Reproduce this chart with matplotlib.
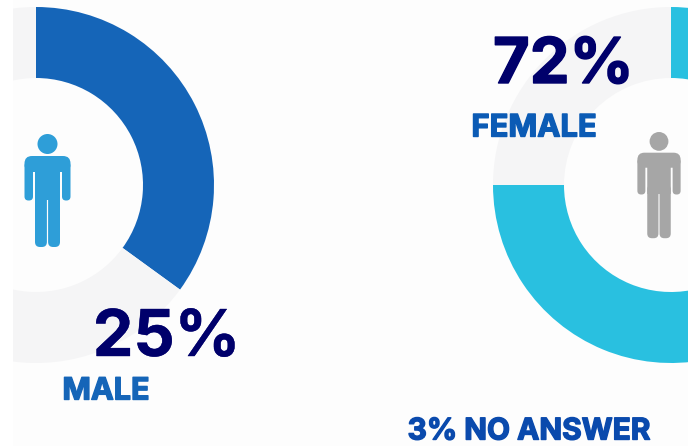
import matplotlib
matplotlib.use("Agg")
import matplotlib.pyplot as plt
from matplotlib.patches import Circle, FancyBboxPatch, Rectangle
import matplotlib.patheffects as pe

# Arc shares as drawn in the picture (filled, remainder)
male_arc = [35, 65]
female_arc = [75, 25]
male_label = "25%"
female_label = "72%"
labels = ["MALE", "FEMALE", "3% NO ANSWER"]

W, H = 688, 446
BG = "#FDFDFD"
TRACK = "#F5F5F6"
BLUE = "#1565B8"
TEAL = "#29C0E0"
NAVY = "#00006B"

fig = plt.figure(figsize=(W / 100, H / 100), dpi=100, facecolor=BG)
ax = fig.add_axes([0, 0, 1, 1], frame_on=False)
ax.set_xticks([])
ax.set_yticks([])


def Y(py):
    return H - py


def donut(values, colors, cx, cy, start, counterclock):
    ax.pie(values, colors=colors, center=(cx, Y(cy)), radius=178, startangle=start,
           counterclock=counterclock, frame=True,
           wedgeprops=dict(width=71, linewidth=0))


def icon(cx, top, scale, color):
    def box(x0, y0, x1, y1, r):
        x0, x1 = cx + x0 * scale, cx + x1 * scale
        y0, y1 = top + y0 * scale, top + y1 * scale
        rr = r * scale
        ax.add_patch(FancyBboxPatch((x0 + rr, Y(y1) + rr), x1 - x0 - 2 * rr, y1 - y0 - 2 * rr,
                                    boxstyle=f"round,pad={rr},rounding_size={rr}",
                                    fc=color, ec="none", zorder=5))
    ax.add_patch(Circle((cx, Y(top + 10 * scale)), 10 * scale, fc=color, ec="none", zorder=5))
    box(-23, 22, 23, 38, 7.5)          # shoulders
    box(-23, 28, -14.5, 66.5, 4)       # arms
    box(14.5, 28, 23, 66.5, 4)
    box(-12.5, 28, 12.5, 66, 0.5)      # torso
    box(-12.5, 56, -0.6, 113, 5)       # legs
    box(0.6, 56, 12.5, 113, 5)


donut(male_arc, [BLUE, TRACK], 36, 185, 90, False)
donut(female_arc, [TEAL, TRACK], 671, 185, 180, True)

ax.set_xlim(0, W)
ax.set_ylim(0, H)
ax.set_aspect("auto")
ax.add_patch(Rectangle((0, 0), 13, H, fc="white", ec="none", zorder=3))

icon(47.5, 134, 1.0, "#2E9ED8")
icon(659, 132, 0.94, "#A6A6A6")


def label(x, py, s, size, color, sw):
    ax.text(x, Y(py), s, fontsize=size, color=color, family="Inter", weight="bold",
            ha="center", va="baseline", zorder=6,
            path_effects=[pe.withStroke(linewidth=sw, foreground=color)])


label(563.5, 83, female_label, 45.5, NAVY, 1.0)
label(166.5, 356, male_label, 46.5, NAVY, 0.3)
label(106, 399.5, labels[0], 22, "#1565B8", 1.0)
label(534, 136.5, labels[1], 22.3, "#0B5BB5", 1.0)
label(529, 439.5, labels[2], 21.5, "#0A4AAD", 1.0)

fig.savefig("out.png", dpi=100, facecolor=BG)
